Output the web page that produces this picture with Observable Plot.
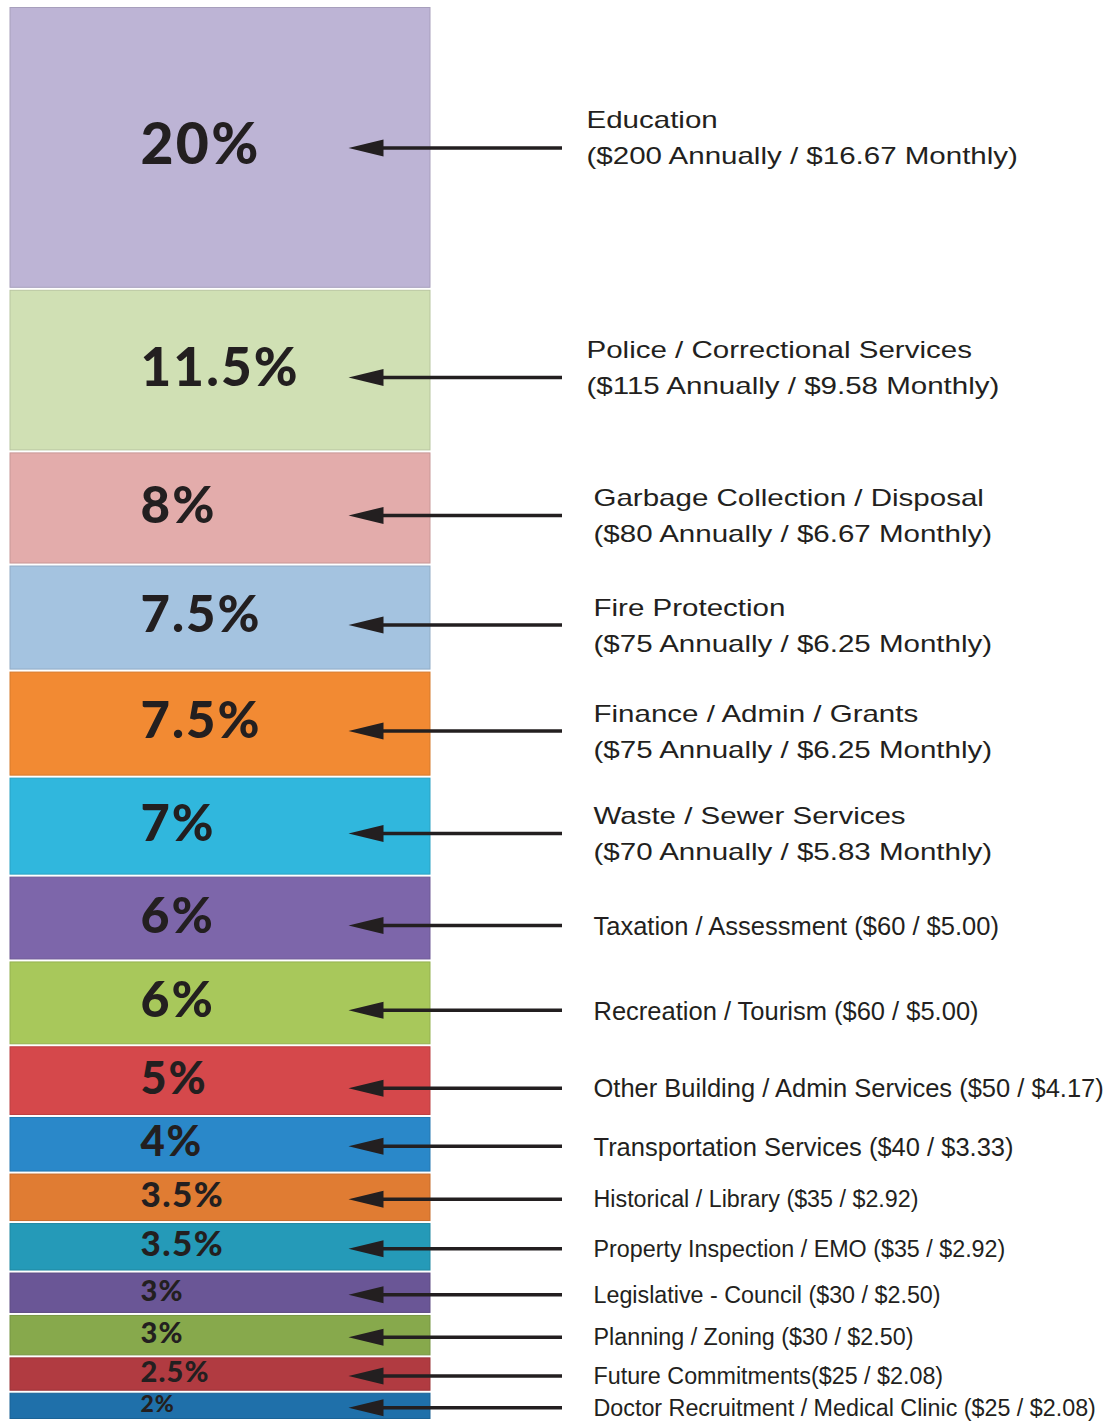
<!DOCTYPE html>
<html>
<head>
<meta charset="utf-8">
<script src="https://cdn.jsdelivr.net/npm/d3@7"></script>
<script src="https://cdn.jsdelivr.net/npm/@observablehq/plot@0.6"></script>
<style>
  html, body { margin: 0; padding: 0; background: #fff; }
  #chart svg { display: block; }
</style>
</head>
<body>
<div id="chart"></div>
<script>
// ---- data ----
const categories = [
  "Education", "Police / Correctional Services", "Garbage Collection / Disposal",
  "Fire Protection", "Finance / Admin / Grants", "Waste / Sewer Services",
  "Taxation / Assessment", "Recreation / Tourism", "Other Building / Admin Services",
  "Transportation Services", "Historical / Library", "Property Inspection / EMO",
  "Legislative - Council", "Planning / Zoning", "Future Commitments",
  "Doctor Recruitment / Medical Clinic"
];
const percents = [20, 11.5, 8, 7.5, 7.5, 7, 6, 6, 5, 4, 3.5, 3.5, 3, 3, 2.5, 2];
const annual = [200, 115, 80, 75, 75, 70, 60, 60, 50, 40, 35, 35, 30, 30, 25, 25];
const monthly = ["16.67", "9.58", "6.67", "6.25", "6.25", "5.83", "5.00", "5.00", "4.17",
                 "3.33", "2.92", "2.92", "2.50", "2.50", "2.08", "2.08"];
const colors = [
  "#bdb4d5", "#d0e0b4", "#e3acab", "#a4c3e0", "#f28a33", "#30b7dd", "#7d66aa", "#a8c85b",
  "#d5484b", "#2a88c9", "#e07c33", "#259ab8", "#6a5696", "#87a94c", "#b13b41", "#1f70aa"
];

// ---- layout / style helpers ----
const W = 1113, H = 1423;
const yRange = [6, 1420];
const pxToPct = 100 / (yRange[1] - yRange[0]);
const ink = "#231f20";
const pctSize = d3.scaleLinear()
  .domain([2, 2.5, 3, 3.5, 4, 5, 6, 11.5, 20])
  .range([23, 29, 29, 35, 42, 45, 50, 53, 57]);
const arrowShiftPx = (i) => (i === 0 ? 0 : i <= 8 ? 7 : 1.5);
const labelShiftPx = (i) => (i < 2 ? -13 : -3);
const labelSize = (d) => (d.i < 6 ? 24 : d.i < 10 ? 25.5 : 23.3);
const labelStretch = (i) => (i < 6 ? 1.23 : 1);

// ---- derived table ----
const ends = d3.cumsum(percents);
const rows = categories.map((name, i) => {
  const sep = name === "Future Commitments" ? "" : " ";
  const label = i < 6
    ? `${name}\n($${annual[i]} Annually / $${monthly[i]} Monthly)`
    : `${name}${sep}($${annual[i]} / $${monthly[i]})`;
  const mid = ends[i] - percents[i] / 2;
  const arrowY = mid + arrowShiftPx(i) * pxToPct;
  return {
    i, name, pct: percents[i], color: colors[i], label,
    y1: ends[i] - percents[i], y2: ends[i], mid,
    arrowY, labelY: arrowY + labelShiftPx(i) * pxToPct
  };
});

// left-pointing filled arrow head, tip at the dot's position
const arrowHead = {
  draw(ctx) {
    ctx.moveTo(0, 0);
    ctx.lineTo(35, -8.5);
    ctx.lineTo(35, 8.5);
    ctx.closePath();
  }
};

const chart = Plot.plot({
  width: W,
  height: H,
  margin: 0,
  x: { domain: [0, W], range: [0, W], axis: null },
  y: { domain: [0, 100], range: yRange, axis: null },
  color: { type: "identity" },
  style: { background: "#fff" },
  marks: [
    Plot.rect(rows, {
      x1: 10, x2: 430, y1: "y1", y2: "y2",
      fill: "color",
      stroke: (d) => d3.color(d.color).darker(0.35).formatHex(),
      strokeWidth: 1,
      insetTop: 1.5, insetBottom: 1.5
    }),
    Plot.text(rows, {
      x: 140, y: "mid", dy: -2,
      text: (d) => `${d.pct}%`,
      textAnchor: "start",
      lineAnchor: "middle",
      fontSize: (d) => pctSize(d.pct),
      fontWeight: 900,
      fontFamily: "Lato, 'Open Sans', sans-serif",
      fill: ink
    }),
    Plot.ruleY(rows, {
      y: "arrowY", x1: 378, x2: 562,
      stroke: ink, strokeWidth: 3.5
    }),
    Plot.dot(rows, {
      x: 348, y: "arrowY",
      symbol: arrowHead, r: 5,
      fill: ink, stroke: "none"
    }),
    Plot.text(rows, {
      x: (d) => (d.i < 2 ? 586 : 593),
      y: "labelY",
      text: "label",
      textAnchor: "start",
      lineAnchor: "middle",
      lineHeight: 1.5,
      fontSize: labelSize,
      fontFamily: "'Liberation Sans', Arial, sans-serif",
      fill: ink
    })
  ]
});

document.getElementById("chart").appendChild(chart);

// post-style: letter spacing on percent labels, horizontal stretch on the two-line labels
const textGroups = chart.querySelectorAll('g[aria-label="text"]');
if (textGroups.length >= 2) {
  d3.select(textGroups[0]).selectAll("text").style("letter-spacing", "0.04em");
  d3.select(textGroups[1]).selectAll("text").each(function (d, k) {
    const idx = typeof d === "number" ? d : k;
    const s = labelStretch(idx);
    if (s === 1) return;
    const t = this.getAttribute("transform");
    if (t) {
      this.setAttribute("transform", `${t} scale(${s},1)`);
    } else {
      const x = +this.getAttribute("x") || 0;
      this.setAttribute("transform", `translate(${x},0) scale(${s},1) translate(${-x},0)`);
    }
  });
}
</script>
</body>
</html>
